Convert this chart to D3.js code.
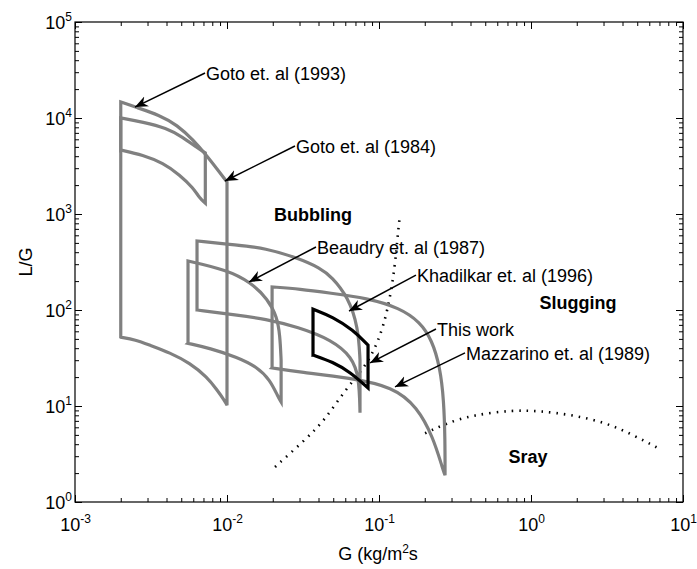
<html>
<head>
  <title>Flow regime map</title>
  <script src="https://d3js.org/d3.v7.min.js"></script>
  <style>
    body { margin: 0; background: #fff; }
    text { font-family: "Liberation Sans", Arial, sans-serif; }
  </style>
</head>
<body>
<script>

// tick labels (powers of ten)
var xMajor = [1e-3, 1e-2, 1e-1, 1e0, 1e1];
var yMajor = [1e0, 1e1, 1e2, 1e3, 1e4, 1e5];

// operating ranges, [G, L/G]: upper edge and lower edge, left to right
var goto84Top = [[0.002,14700],[0.0025,13000],[0.0036,10700],[0.0047,8450],[0.006,5900],[0.0074,4000],[0.0087,2870],[0.0097,2300],[0.01,2150]];
var goto84Bot = [[0.002,52],[0.0025,49],[0.0031,43],[0.0042,36],[0.0057,28],[0.0074,20],[0.0086,14.7],[0.0096,11.5],[0.01,10.2]];

var goto93Top = [[0.002,10000],[0.0028,9090],[0.004,7870],[0.0051,6340],[0.0064,4870],[0.0072,4320]];
var goto93Bot = [[0.002,4640],[0.0028,4120],[0.0038,3400],[0.0049,2550],[0.006,1865],[0.0066,1470],[0.0072,1300]];

var beaudryTop = [[0.00554,324],[0.01,261],[0.0142,196],[0.0186,130],[0.0213,85],[0.0223,55],[0.0227,30]];
var beaudryBot = [[0.00554,45],[0.0077,40],[0.0116,32.4],[0.0158,25.5],[0.0192,18.7],[0.0217,12.4],[0.0227,11]];

var khadilkarTop = [[0.00635,523],[0.0116,475],[0.0178,442],[0.0293,348],[0.041,274],[0.049,221],[0.0625,137],[0.073,66.5],[0.075,30]];
var khadilkarBot = [[0.00635,100],[0.0116,88.7],[0.0178,80.6],[0.0293,66.5],[0.049,48.7],[0.0664,32.4],[0.074,20],[0.075,8.5]];

var mazzarinoTop = [[0.0198,174],[0.0302,165],[0.0476,150],[0.0834,133],[0.137,105],[0.186,75],[0.223,48.7],[0.252,25.5],[0.267,11.5],[0.272,4.4],[0.272,1.9]];
var mazzarinoBot = [[0.0198,24.9],[0.0302,22.6],[0.0645,19.6],[0.124,15.8],[0.178,9.8],[0.227,4.75],[0.264,2.15],[0.272,1.9]];

var thisTop = [[0.0368,102],[0.0498,84.5],[0.0675,61.9],[0.0847,43]];
var thisBot = [[0.0368,34],[0.0498,28.7],[0.0645,22.6],[0.0847,15.4]];

// regime transition lines (dotted)
var bubbleSlug = [[0.0207,2.32],[0.0326,4.43],[0.0441,7.15],[0.0598,14.7],[0.0809,25.5],[0.0985,45.3],[0.1146,100],[0.1274,281],[0.1333,649],[0.1374,977]];
var slugSpray = [[0.201,5.2],[0.28,6.65],[0.415,8.06],[0.762,9.08],[1.146,8.87],[1.89,8.06],[3.16,6.65],[4.69,4.99],[6.85,3.65]];

// annotations: label, text anchor [G, L/G], arrow tip [G, L/G]
var notes = [
  {label: "Goto et. al (1993)",      from: [0.00717,29400], to: [0.00248,13000]},
  {label: "Goto et. al (1984)",      from: [0.028,5110],    to: [0.0097,2207]},
  {label: "Beaudry et. al (1987)",   from: [0.0385,453],    to: [0.01396,196]},
  {label: "Khadilkar et. al (1996)", from: [0.175,231],     to: [0.0635,97.6]},
  {label: "This work",               from: [0.237,63.4],    to: [0.0873,28.1]},
  {label: "Mazzarino et. al (1989)", from: [0.368,35.7],    to: [0.1274,15.8]}
];

var regimes = [
  {label: "Bubbling", at: [0.0368,977]},
  {label: "Slugging", at: [2.04,118]},
  {label: "Sray",     at: [0.955,2.94]}
];

var width = 697,
    height = 569;

var margin = {top: 22, right: 14, bottom: 67, left: 75};

var x = d3.scaleLog().domain([1e-3, 1e1]).range([margin.left, width - margin.right]),
    y = d3.scaleLog().domain([1e0, 1e5]).range([height - margin.bottom, margin.top]);

var svg = d3.select("body")
            .append("svg")
            .attr("width", width)
            .attr("height", height);

svg.append("defs").append("marker")
   .attr("id", "head")
   .attr("viewBox", "-13 -6 14 12")
   .attr("refX", 0)
   .attr("refY", 0)
   .attr("markerWidth", 14)
   .attr("markerHeight", 12)
   .attr("markerUnits", "userSpaceOnUse")
   .attr("orient", "auto")
 .append("path")
   .attr("d", "M0,0L-13,-5.5L-9,0L-13,5.5Z")
   .attr("fill", "black");

function minorTicks(lo, hi) {
  var t = [];
  for (var k = lo; k < hi; k++)
    for (var m = 2; m <= 9; m++) t.push(m * Math.pow(10, k));
  return t;
}

var xMinor = minorTicks(-3, 1),
    yMinor = minorTicks(0, 5);

var x0 = margin.left, x1 = width - margin.right,
    y0 = height - margin.bottom, y1 = margin.top;

function addAxis(axis, tx, ty, values, size) {
  var g = svg.append("g")
     .attr("transform", "translate(" + tx + "," + ty + ")")
     .call(axis.tickValues(values).tickSize(size).tickSizeOuter(0).tickFormat(""));
  g.select(".domain").remove();
  g.selectAll("line").attr("stroke", "black").attr("stroke-width", 1);
  return g;
}

// ticks on all four sides, pointing inwards
var gx = addAxis(d3.axisBottom(x).tickPadding(16), 0, y0, xMajor, -7);
addAxis(d3.axisBottom(x), 0, y0, xMinor, -4);
addAxis(d3.axisTop(x), 0, y1, xMajor, -7);
addAxis(d3.axisTop(x), 0, y1, xMinor, -4);
var gy = addAxis(d3.axisLeft(y).tickPadding(3), x0, 0, yMajor, -7);
addAxis(d3.axisLeft(y), x0, 0, yMinor, -4);
addAxis(d3.axisRight(y), x1, 0, yMajor, -7);
addAxis(d3.axisRight(y), x1, 0, yMinor, -4);

function powerLabel(sel) {
  sel.each(function(d) {
    var t = d3.select(this).text(null)
              .attr("fill", "black")
              .attr("font-size", "18px");
    t.append("tspan").text("10");
    t.append("tspan").attr("dy", -8).attr("font-size", "12px")
     .text(Math.round(Math.log10(d)));
  });
}

gx.selectAll(".tick text").call(powerLabel);
gy.selectAll(".tick text").attr("dy", "0.38em").call(powerLabel);

svg.append("rect")
   .attr("x", x0).attr("y", y1)
   .attr("width", x1 - x0).attr("height", y0 - y1)
   .attr("fill", "none")
   .attr("stroke", "black")
   .attr("stroke-width", 1.2);

// axis titles
svg.append("text")
   .attr("transform", "translate(32," + ((y0 + y1) / 2) + ") rotate(-90)")
   .attr("text-anchor", "middle")
   .attr("font-size", "18px")
   .text("L/G");

var xt = svg.append("text")
   .attr("x", (x0 + x1) / 2 - 1)
   .attr("y", 560)
   .attr("text-anchor", "middle")
   .attr("font-size", "18px");
xt.append("tspan").text("G (kg/m");
xt.append("tspan").attr("dy", -7).attr("font-size", "12px").text("2");
xt.append("tspan").attr("dy", 7).text("s");

// dotted transition lines
var smooth = d3.line()
   .x(function(d) { return x(d[0]); })
   .y(function(d) { return y(d[1]); })
   .curve(d3.curveBasis);

[bubbleSlug, slugSpray].forEach(function(s) {
  svg.append("path")
     .attr("d", smooth(s))
     .attr("fill", "none")
     .attr("stroke", "black")
     .attr("stroke-width", 2.6)
     .attr("stroke-dasharray", "1.5,6");
});

function region(top, bot) {
  var t = smooth(top),
      b = smooth(bot.slice().reverse());
  return "M" + x(bot[0][0]) + "," + y(bot[0][1]) + "L" + t.slice(1) + "L" + b.slice(1) + "Z";
}

var ranges = [
  [goto84Top, goto84Bot],
  [goto93Top, goto93Bot],
  [beaudryTop, beaudryBot],
  [khadilkarTop, khadilkarBot],
  [mazzarinoTop, mazzarinoBot]
];

svg.selectAll("path.range")
   .data(ranges)
   .enter().append("path")
   .attr("class", "range")
   .attr("d", function(d) { return region(d[0], d[1]); })
   .attr("fill", "none")
   .attr("stroke", "#808080")
   .attr("stroke-width", 3.2);

svg.append("path")
   .attr("d", region(thisTop, thisBot))
   .attr("fill", "none")
   .attr("stroke", "black")
   .attr("stroke-width", 3.2);

// annotation arrows
var note = svg.selectAll("g.note")
   .data(notes)
   .enter().append("g")
   .attr("class", "note");

note.append("line")
   .attr("x1", function(d) { return x(d.from[0]); })
   .attr("y1", function(d) { return y(d.from[1]); })
   .attr("x2", function(d) { return x(d.to[0]); })
   .attr("y2", function(d) { return y(d.to[1]); })
   .attr("stroke", "black")
   .attr("stroke-width", 1.5)
   .attr("marker-end", "url(#head)");

note.append("text")
   .attr("x", function(d) { return x(d.from[0]) + 1; })
   .attr("y", function(d) { return y(d.from[1]) + 7; })
   .attr("font-size", "18px")
   .text(function(d) { return d.label; });

svg.selectAll("text.regime")
   .data(regimes)
   .enter().append("text")
   .attr("class", "regime")
   .attr("x", function(d) { return x(d.at[0]); })
   .attr("y", function(d) { return y(d.at[1]); })
   .attr("dy", "0.35em")
   .attr("text-anchor", "middle")
   .attr("font-size", "18px")
   .attr("font-weight", "bold")
   .text(function(d) { return d.label; });

</script>
</body>
</html>
